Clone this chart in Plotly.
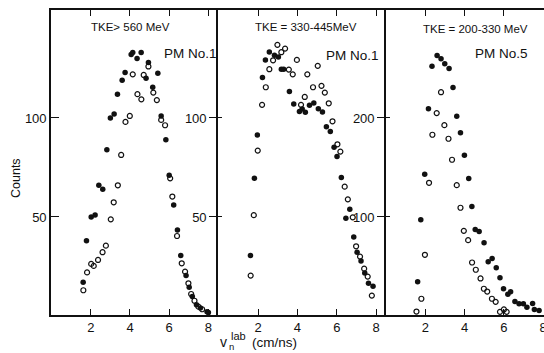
import plotly.graph_objects as go

# ---------------- data ----------------
# Panel 1: TKE > 560 MeV, PM No.1
p1_filled_x = [1.61, 1.78, 2.02, 2.22, 2.41, 2.61, 2.82, 3.00, 3.19, 3.36, 3.60, 3.75, 4.06, 4.14,
               4.36, 4.57, 4.82, 4.94, 5.16, 5.42, 5.59, 5.83, 6.00, 6.23, 6.42, 6.59, 6.86, 7.02,
               7.18, 7.39, 7.59, 7.93, 8.00]
p1_filled_y = [17, 38, 50, 51, 66, 64, 84, 100, 102, 112, 119, 123, 132, 133,
               130, 133, 120, 128, 115.5, 122.6, 101, 89, 71, 56, 43.4, 30.5, 20.5, 14.5,
               9.8, 5.7, 4, 2.2, 1.7]
p1_open_x = [1.62, 1.81, 2.02, 2.15, 2.37, 2.60, 2.77, 3.02, 3.17, 3.38, 3.55, 3.77, 3.99, 4.14,
             4.38, 4.58, 4.70, 4.94, 5.19, 5.37, 5.59, 5.79, 6.05, 6.16, 6.40, 6.64, 6.81, 6.98,
             7.12, 7.29, 7.49, 7.68]
p1_open_y = [13, 22, 26.3, 25.3, 28.3, 32.2, 35.5, 48.8, 57.4, 66, 81.3, 98, 101, 122,
             112, 109.4, 121.7, 126, 112.8, 109, 99, 96.3, 69.5, 60.3, 40.4, 26.6, 22.4, 16.5,
             11.1, 7.7, 4.7, 3.4]

# Panel 2: TKE = 330-445 MeV, PM No.1
p2_filled_x = [1.61, 1.81, 1.96, 2.22, 2.37, 2.57, 2.83, 3.03, 3.18, 3.30, 3.59, 3.81, 4.10, 4.24,
               4.40, 4.61, 4.83, 5.06, 5.27, 5.47, 5.67, 5.86, 6.01, 6.23, 6.46, 6.66, 6.86, 7.03,
               7.23, 7.42, 7.61, 7.84]
p2_filled_y = [30.5, 69.5, 91.4, 120.4, 129.3, 133.3, 131.7, 130.8, 124.6, 124.6, 113.3, 107.1, 103.2, 104.5,
               102.9, 106.4, 107.6, 104.7, 103, 95.5, 93.1, 85.2, 80.5, 69.9, 49.3, 53.9, 39.9, 32.2,
               27.8, 21.7, 16.5, 15]
p2_open_x = [1.62, 1.78, 1.98, 2.20, 2.39, 2.57, 2.76, 2.98, 3.18, 3.37, 3.56, 3.76, 3.97, 4.18,
             4.37, 4.50, 4.79, 5.03, 5.22, 5.39, 5.59, 5.78, 6.03, 6.18, 6.40, 6.56, 6.81, 6.98,
             7.18, 7.39, 7.57, 7.78]
p2_open_y = [20.4, 50.9, 83.5, 106.6, 115.5, 124.6, 129.1, 136.9, 133.2, 135, 124.4, 122, 129.3, 106.6,
             110.6, 122, 115.5, 126.3, 116.2, 112.8, 107.4, 98.3, 86.7, 83, 65.3, 58.9, 49.8, 35.2,
             30, 23.9, 19.9, 10.3]

# Panel 3: TKE = 200-330 MeV, PM No.5
p3_filled_x = [1.61, 1.77, 1.97, 2.16, 2.34, 2.60, 2.80, 2.99, 3.21, 3.41, 3.60, 3.79, 3.99, 4.21,
               4.37, 4.54, 4.74, 4.99, 5.20, 5.40, 5.61, 5.80, 5.98, 6.20, 6.34, 6.56, 6.77, 6.99,
               7.17, 7.46, 7.55, 7.79]
p3_filled_y = [34.5, 97.2, 143.2, 209.3, 252.3, 263, 259.8, 254.7, 250, 230.8, 201.8, 185, 162.4, 138.9,
               110.6, 87.4, 85.4, 73.9, 54.7, 58.1, 48.7, 38.6, 27.5, 22, 24.4, 14.6, 12.3, 12.3,
               8.9, 12.6, 6.6, 5.6]
p3_open_x = [1.55, 1.80, 1.98, 2.19, 2.36, 2.58, 2.80, 2.97, 3.18, 3.36, 3.60, 3.79, 3.96, 4.18,
             4.38, 4.57, 4.81, 4.98, 5.15, 5.39, 5.58, 5.80, 6.00, 6.14]
p3_open_y = [4.5, 17.4, 61.8, 134.5, 183, 204.9, 226, 192.7, 179, 157.8, 132.1, 109.3, 86, 76.6,
             54, 46.7, 37.9, 27.5, 24.7, 17.4, 14.3, 4.2, 6.6, 4.2]

x_tick_vals = [2, 4, 6, 8]
y_ticks_12 = [50, 100]
y_ticks_3 = [100, 200]
panel_titles = ["TKE> 560 MeV", "TKE = 330-445MeV", "TKE = 200-330 MeV"]
panel_pm = ["PM No.1", "PM No.1", "PM No.5"]

# ---------------- layout geometry ----------------
W, H = 544, 353
ML, MR, MT, MB = 51, 0, 10, 38
PW, PH = W - ML - MR, H - MT - MB


def px(xp):
    return (xp - ML) / PW


def py(yp):
    return (H - MB - yp) / PH


doms = [[0, px(218)], [px(218), px(386)], [px(386), 1.0]]

FONT = "Liberation Sans, Arial, sans-serif"
INK = "#111111"

fig = go.Figure()

panels = [
    (p1_filled_x, p1_filled_y, p1_open_x, p1_open_y),
    (p2_filled_x, p2_filled_y, p2_open_x, p2_open_y),
    (p3_filled_x, p3_filled_y, p3_open_x, p3_open_y),
]
for i, (fx, fy, ox, oy) in enumerate(panels):
    xa = "x" if i == 0 else f"x{i+1}"
    ya = "y" if i == 0 else f"y{i+1}"
    fig.add_trace(go.Scatter(x=fx, y=fy, mode="markers", xaxis=xa, yaxis=ya,
                             marker=dict(symbol="circle", size=5.5, color=INK),
                             showlegend=False))
    fig.add_trace(go.Scatter(x=ox, y=oy, mode="markers", xaxis=xa, yaxis=ya,
                             marker=dict(symbol="circle-open", size=5,
                                         color=INK, line=dict(width=1.2, color=INK)),
                             showlegend=False))

tickfont = dict(family=FONT, size=13, color=INK)
xranges = [[-0.03, 8.49], [-0.04, 8.5], [0, 8.04]]
yranges = [[0.5, 154.5], [0.5, 154.5], [1, 309]]
yticks = [y_ticks_12, y_ticks_12, y_ticks_3]

lay = {}
for i in range(3):
    sx = "" if i == 0 else str(i + 1)
    lay[f"xaxis{sx}"] = dict(domain=doms[i], range=xranges[i], anchor=f"y{sx}",
                             tickvals=x_tick_vals, ticks="inside", ticklen=6, tickwidth=1.3,
                             tickcolor=INK, showline=True, linecolor=INK, linewidth=1.6,
                             mirror="ticks", showgrid=False, zeroline=False,
                             tickfont=tickfont, ticklabeloverflow="allow")
    lay[f"yaxis{sx}"] = dict(domain=[0, 1], range=yranges[i], anchor=f"x{sx}",
                             tickvals=yticks[i], ticks="inside" if i == 0 else "outside",
                             ticklen=8 if i == 0 else 7, tickwidth=1.3, tickcolor=INK,
                             showline=True, linecolor=INK, linewidth=1.6,
                             showgrid=False, zeroline=False, tickfont=tickfont)
# inner half of the crossing ticks on panels 2 and 3
for i, k in [(1, 4), (2, 5)]:
    sx = str(i + 1)
    lay[f"yaxis{k}"] = dict(overlaying=f"y{sx}", anchor=f"x{sx}", range=yranges[i],
                            tickvals=yticks[i], ticks="inside", ticklen=4, tickwidth=1.3,
                            tickcolor=INK, showticklabels=False, showline=False,
                            showgrid=False, zeroline=False)

fig.update_layout(**lay)
# dummy traces so the overlay axes are drawn
for k, xa in [(4, "x2"), (5, "x3")]:
    fig.add_trace(go.Scatter(x=[None], y=[None], xaxis=xa, yaxis=f"y{k}",
                             showlegend=False, hoverinfo="skip"))


def label(text, xp, yp, size, angle=0):
    return dict(text=text, x=px(xp), y=py(yp), xref="paper", yref="paper",
                xanchor="center", yanchor="middle", showarrow=False, textangle=angle,
                font=dict(family=FONT, size=size, color=INK))


ann = []
title_pos = [(130, 27), (306, 27), (475, 29)]
pm_pos = [(190, 53), (352, 55), (501, 54)]
for i in range(3):
    ann.append(label(panel_titles[i], *title_pos[i], 11.5))
    ann.append(label(panel_pm[i], *pm_pos[i], 13.5))
ann.append(label("Counts", 16, 178, 12.5, -90))
# x title: v with stacked sub/superscript
ann.append(label("v", 223, 342, 14))
ann.append(label("lab", 238, 336, 11))
ann.append(label("n", 231.5, 346.5, 9.5))
ann.append(label("(cm/ns)", 274, 342, 13.5))

fig.update_layout(width=W, height=H, margin=dict(l=ML, r=MR, t=MT, b=MB, autoexpand=False),
                  paper_bgcolor="white", plot_bgcolor="white", annotations=ann,
                  showlegend=False)

fig.write_html("out.html")
